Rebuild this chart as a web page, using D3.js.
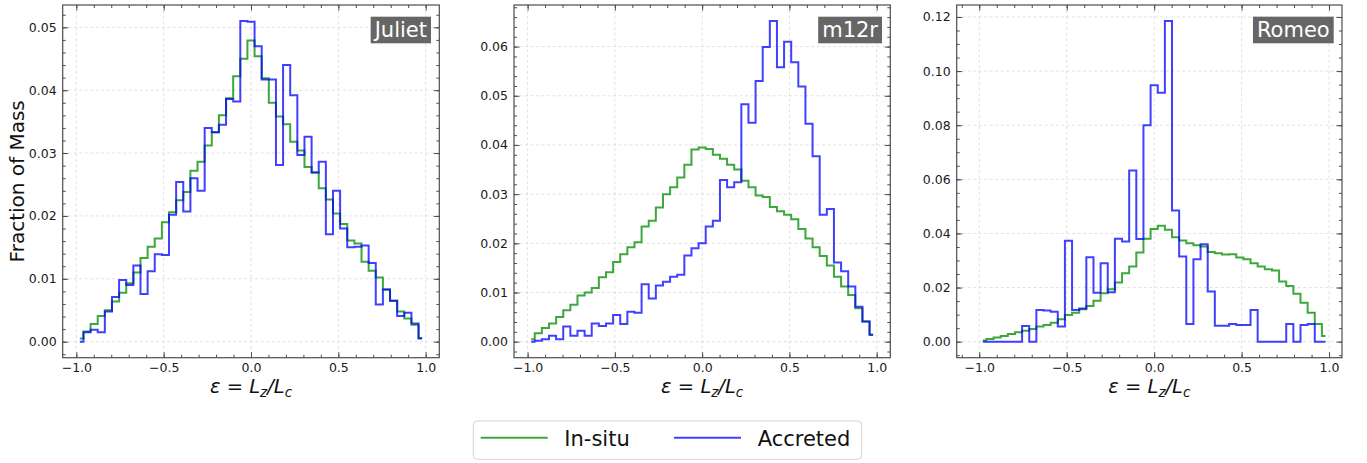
<!DOCTYPE html>
<html>
<head>
<meta charset="utf-8">
<script src="https://cdn.jsdelivr.net/npm/d3@7"></script>
<style>
  html, body { margin: 0; padding: 0; background: #ffffff; }
  svg { display: block; font-family: "DejaVu Sans", sans-serif; }
</style>
</head>
<body>
<svg id="chart" width="1367" height="463"></svg>
<script>
// ---------------- DATA ----------------
// 49 equal bins spanning [-1, 1]; values are fraction of mass per bin
const nBins = 49;
const binCenters = d3.range(nBins).map(i => -1 + (i + 0.5) * 2 / nBins);

const panelNames = ["Juliet", "m12r", "Romeo"];
const seriesNames = ["In-situ", "Accreted"];

const julietInsitu = [0.0005,0.0016,0.0028,0.0041,0.0050,0.0064,0.0078,0.0093,0.0110,0.0133,
  0.0151,0.0164,0.0190,0.0206,0.0225,0.0238,0.0272,0.0286,0.0312,0.0333,
  0.0360,0.0387,0.0422,0.0450,0.0479,0.0454,0.0419,0.0380,0.0358,0.0346,
  0.0318,0.0304,0.0278,0.0269,0.0244,0.0226,0.0204,0.0187,0.0161,0.0156,
  0.0127,0.0113,0.0102,0.0083,0.0065,0.0048,0.0037,0.0027,0.0006];
const julietAccreted = [0.0000,0.0015,0.0019,0.0015,0.0048,0.0071,0.0098,0.0090,0.0121,0.0076,
  0.0112,0.0139,0.0138,0.0202,0.0254,0.0207,0.0260,0.0240,0.0340,0.0333,
  0.0345,0.0386,0.0382,0.0510,0.0509,0.0470,0.0417,0.0417,0.0281,0.0440,
  0.0392,0.0297,0.0326,0.0269,0.0286,0.0171,0.0240,0.0180,0.0150,0.0151,
  0.0153,0.0125,0.0059,0.0083,0.0065,0.0041,0.0046,0.0029,0.0005];

const m12rInsitu = [0.0005,0.0017,0.0028,0.0037,0.0050,0.0064,0.0075,0.0094,0.0100,0.0109,
  0.0131,0.0141,0.0162,0.0178,0.0192,0.0202,0.0234,0.0246,0.0273,0.0300,
  0.0314,0.0334,0.0360,0.0391,0.0395,0.0392,0.0380,0.0372,0.0360,0.0350,
  0.0327,0.0314,0.0297,0.0294,0.0274,0.0265,0.0258,0.0249,0.0229,0.0210,
  0.0192,0.0174,0.0155,0.0132,0.0112,0.0095,0.0068,0.0041,0.0014];
const m12rAccreted = [0.0000,0.0002,0.0005,0.0012,0.0005,0.0031,0.0012,0.0022,0.0012,0.0037,
  0.0032,0.0037,0.0054,0.0036,0.0061,0.0059,0.0117,0.0088,0.0114,0.0122,
  0.0132,0.0136,0.0175,0.0190,0.0200,0.0234,0.0246,0.0329,0.0314,0.0324,
  0.0483,0.0445,0.0530,0.0599,0.0652,0.0558,0.0610,0.0568,0.0519,0.0443,
  0.0377,0.0258,0.0270,0.0161,0.0143,0.0112,0.0071,0.0041,0.0014];

const romeoInsitu = [0.0004,0.0010,0.0015,0.0021,0.0028,0.0035,0.0040,0.0047,0.0056,0.0062,
  0.0070,0.0083,0.0099,0.0107,0.0120,0.0132,0.0151,0.0179,0.0194,0.0219,
  0.0253,0.0278,0.0330,0.0380,0.0416,0.0428,0.0414,0.0386,0.0374,0.0364,
  0.0356,0.0352,0.0331,0.0327,0.0322,0.0323,0.0311,0.0305,0.0290,0.0278,
  0.0268,0.0263,0.0222,0.0206,0.0177,0.0144,0.0107,0.0065,0.0021];
const romeoAccreted = [0.0000,0.0000,0.0000,0.0000,0.0000,0.0000,0.0058,0.0000,0.0117,0.0115,
  0.0111,0.0056,0.0373,0.0117,0.0123,0.0312,0.0181,0.0290,0.0183,0.0380,
  0.0370,0.0633,0.0379,0.0800,0.0948,0.0920,0.1185,0.0485,0.0315,0.0065,
  0.0305,0.0360,0.0185,0.0059,0.0059,0.0065,0.0062,0.0062,0.0117,0.0000,
  0.0000,0.0000,0.0000,0.0065,0.0000,0.0062,0.0065,0.0000,0.0000];

const xMajorTicks = [-1.0, -0.5, 0.0, 0.5, 1.0];

// ---------------- LAYOUT / STYLE ----------------
const colors = { insitu: "#2ca02c", accreted: "#0000ff" };
const plotTop = 5, plotBottom = 357.7;
const panels = [
  { name: panelNames[0], insitu: julietInsitu, accreted: julietAccreted, left: 62.7, right: 439.3, xDomain: [-1.078, 1.078], yMajor: 0.01, yMinor: 0.002 },
  { name: panelNames[1], insitu: m12rInsitu, accreted: m12rAccreted, left: 514.0, right: 890.3, xDomain: [-1.078, 1.078], yMajor: 0.01, yMinor: 0.002 },
  { name: panelNames[2], insitu: romeoInsitu, accreted: romeoAccreted, left: 956.7, right: 1342.0, xDomain: [-1.129, 1.074], yMajor: 0.02, yMinor: 0.005 }
];

const svg = d3.select("#chart");
svg.append("rect").attr("width", 1367).attr("height", 463).attr("fill", "#fff");

const frameColor = "#4d4d4d";
const tickFont = 12.5;
const majLen = 5.5, minLen = 3;

function rangeWithin(step, lo, hi) {
  const out = [];
  const start = Math.ceil(lo / step - 1e-9);
  const end = Math.floor(hi / step + 1e-9);
  for (let k = start; k <= end; k++) out.push(+(k * step).toFixed(6));
  return out;
}

panels.forEach((p, idx) => {
  const ymaxData = d3.max([...p.insitu, ...p.accreted]);
  const x = d3.scaleLinear().domain(p.xDomain).range([p.left, p.right]);
  const y = d3.scaleLinear().domain([-0.05 * ymaxData, 1.05 * ymaxData]).range([plotBottom, plotTop]);

  const g = svg.append("g");
  const yMajorTicks = rangeWithin(p.yMajor, 0, y.domain()[1]);
  const yMinorTicks = rangeWithin(p.yMinor, y.domain()[0], y.domain()[1]);
  const xMinorTicks = rangeWithin(0.1, p.xDomain[0], p.xDomain[1]);

  // grid
  const grid = g.append("g").attr("stroke", "#d9d9d9").attr("stroke-width", 0.8).attr("stroke-dasharray", "3,2.5");
  xMajorTicks.forEach(t => grid.append("line").attr("x1", x(t)).attr("x2", x(t)).attr("y1", plotTop).attr("y2", plotBottom));
  yMajorTicks.forEach(t => grid.append("line").attr("x1", p.left).attr("x2", p.right).attr("y1", y(t)).attr("y2", y(t)));

  // histogram step lines
  const line = d3.line().x((d, i) => x(binCenters[i])).y(d => y(d)).curve(d3.curveStep);
  g.append("path").datum(p.insitu).attr("d", line).attr("fill", "none")
    .attr("stroke", colors.insitu).attr("stroke-opacity", 0.92).attr("stroke-width", 2);
  g.append("path").datum(p.accreted).attr("d", line).attr("fill", "none")
    .attr("stroke", colors.accreted).attr("stroke-opacity", 0.75).attr("stroke-width", 2);

  // axes (inward ticks on all four sides)
  const fmtY = d3.format(".2f"), fmtX = d3.format(".1f");
  const axB = g.append("g").attr("transform", `translate(0,${plotBottom})`)
    .call(d3.axisBottom(x).tickValues(xMajorTicks).tickFormat(fmtX).tickSizeInner(-majLen).tickSizeOuter(0).tickPadding(5));
  const axBm = g.append("g").attr("transform", `translate(0,${plotBottom})`)
    .call(d3.axisBottom(x).tickValues(xMinorTicks).tickFormat("").tickSizeInner(-minLen).tickSizeOuter(0));
  const axT = g.append("g").attr("transform", `translate(0,${plotTop})`)
    .call(d3.axisTop(x).tickValues(xMajorTicks).tickFormat("").tickSizeInner(-majLen).tickSizeOuter(0));
  const axTm = g.append("g").attr("transform", `translate(0,${plotTop})`)
    .call(d3.axisTop(x).tickValues(xMinorTicks).tickFormat("").tickSizeInner(-minLen).tickSizeOuter(0));
  const axL = g.append("g").attr("transform", `translate(${p.left},0)`)
    .call(d3.axisLeft(y).tickValues(yMajorTicks).tickFormat(fmtY).tickSizeInner(-majLen).tickSizeOuter(0).tickPadding(6));
  const axLm = g.append("g").attr("transform", `translate(${p.left},0)`)
    .call(d3.axisLeft(y).tickValues(yMinorTicks).tickFormat("").tickSizeInner(-minLen).tickSizeOuter(0));
  const axR = g.append("g").attr("transform", `translate(${p.right},0)`)
    .call(d3.axisRight(y).tickValues(yMajorTicks).tickFormat("").tickSizeInner(-majLen).tickSizeOuter(0));
  const axRm = g.append("g").attr("transform", `translate(${p.right},0)`)
    .call(d3.axisRight(y).tickValues(yMinorTicks).tickFormat("").tickSizeInner(-minLen).tickSizeOuter(0));

  [axB, axBm, axT, axTm, axL, axLm, axR, axRm].forEach(a => {
    a.select(".domain").remove();
    a.selectAll(".tick line").attr("stroke", frameColor).attr("stroke-width", 1);
    a.selectAll(".tick text").attr("font-family", "DejaVu Sans").attr("font-size", tickFont).attr("fill", "#1a1a1a");
  });

  // frame
  g.append("rect").attr("x", p.left).attr("y", plotTop).attr("width", p.right - p.left).attr("height", plotBottom - plotTop)
    .attr("fill", "none").attr("stroke", frameColor).attr("stroke-width", 1.2);

  // x label
  const xl = g.append("text").attr("x", (p.left + p.right) / 2).attr("y", 392.5)
    .attr("text-anchor", "middle").attr("font-size", 19.5).attr("fill", "#111");
  xl.append("tspan").attr("font-style", "italic").text("ε");
  xl.append("tspan").text(" = ");
  xl.append("tspan").attr("font-style", "italic").text("L");
  xl.append("tspan").attr("font-style", "italic").attr("font-size", 13.5).attr("dy", 4).text("z");
  xl.append("tspan").attr("font-style", "italic").attr("dy", -4).text("/L");
  xl.append("tspan").attr("font-style", "italic").attr("font-size", 13.5).attr("dy", 4).text("c");

  // title badge
  const tb = g.append("g");
  const tt = tb.append("text").attr("font-size", 21).attr("fill", "#fff").attr("text-anchor", "end")
    .attr("x", p.right - 8.3 - 4).attr("y", 37).text(p.name);
  const tw = tt.node().getComputedTextLength();
  tb.insert("rect", "text").attr("x", p.right - 8.3 - tw - 8).attr("y", 16.7).attr("width", tw + 8).attr("height", 26.6)
    .attr("fill", "#666666");
});

// y label
svg.append("text").attr("transform", "translate(23.5,181.3) rotate(-90)").attr("text-anchor", "middle")
  .attr("font-size", 20).attr("fill", "#111").text("Fraction of Mass");

// legend
const lg = svg.append("g");
lg.append("rect").attr("x", 473.3).attr("y", 421).attr("width", 388.4).attr("height", 38.3).attr("rx", 4)
  .attr("fill", "#fff").attr("stroke", "#d4d4d4").attr("stroke-width", 1);
const legendItems = [
  { label: seriesNames[0], color: colors.insitu, op: 0.92, x0: 480.7, tx: 564.3 },
  { label: seriesNames[1], color: colors.accreted, op: 0.75, x0: 674.0, tx: 757.7 }
];
legendItems.forEach(it => {
  lg.append("line").attr("x1", it.x0).attr("x2", it.x0 + 67).attr("y1", 437.7).attr("y2", 437.7)
    .attr("stroke", it.color).attr("stroke-opacity", it.op).attr("stroke-width", 2);
  lg.append("text").attr("x", it.tx).attr("y", 446).attr("font-size", 21).attr("fill", "#111").text(it.label);
});
</script>
</body>
</html>
